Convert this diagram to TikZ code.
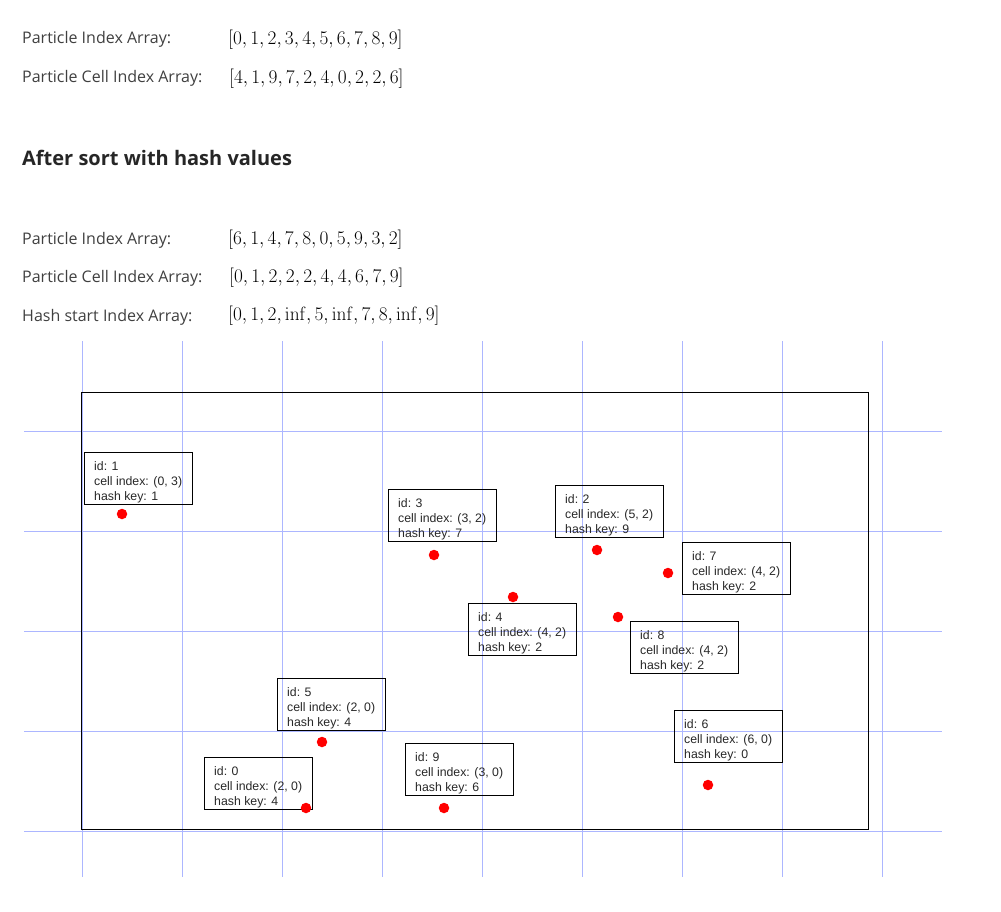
\documentclass[tikz,border=0pt]{standalone}
\usepackage{fix-cm}
\usepackage[no-math]{fontspec}
\setmainfont{Open Sans}
\newfontfamily\boxfont{Liberation Sans}
\definecolor{gridblue}{RGB}{172,182,255}
\definecolor{labelgray}{RGB}{64,64,64}
\definecolor{headgray}{RGB}{38,38,38}
\definecolor{boxtext}{RGB}{40,40,40}
\begin{document}
\begin{tikzpicture}[x=1pt,y=-1pt,
  gridline/.style={gridblue, line width=1pt},
  frame/.style={draw=black, line width=1.2pt, anchor=north west, inner sep=0, minimum width=787, minimum height=437},
  lbl/.style={anchor=base west, inner sep=0, text=labelgray, font=\fontsize{16}{19}\selectfont},
  arr/.style={anchor=base west, inner sep=0, font=\fontsize{19.3}{22}\selectfont},
  head/.style={anchor=base west, inner sep=0, text=headgray, font=\fontsize{20}{24}\selectfont\bfseries},
  pbox/.style={draw=black, line width=0.9pt, anchor=north west, minimum width=108, minimum height=52, inner sep=0},
  ptext/.style={anchor=north west, inner sep=0, align=left, text=boxtext, font=\boxfont\fontsize{12.3}{15}\selectfont},
  dot/.style={circle, fill=red, minimum size=10.5, inner sep=0}]
\useasboundingbox[fill=white] (0,0) rectangle (1001,911);

% header texts
\node[lbl] (l1) at (22,43) {Particle Index Array:};
\node[arr] (a1) at (228,44) {$[0,1,2,3,4,5,6,7,8,9]$};
\node[lbl] (l2) at (22,82) {Particle Cell Index Array:};
\node[arr] (a2) at (229,83) {$[4,1,9,7,2,4,0,2,2,6]$};
\node[head] (h) at (22,165) {After sort with hash values};
\node[lbl] (l3) at (22,244) {Particle Index Array:};
\node[arr] (a3) at (228,244.5) {$[6,1,4,7,8,0,5,9,3,2]$};
\node[lbl] (l4) at (22,282) {Particle Cell Index Array:};
\node[arr] (a4) at (229,282.5) {$[0,1,2,2,2,4,4,6,7,9]$};
\node[lbl] (l5) at (22,321) {Hash start Index Array:};
\node[arr] (a5) at (228,320.5) {$[0,1,2,\mathrm{inf},5,\mathrm{inf},7,8,\mathrm{inf},9]$};

% grid
\foreach \gx in {82.5,182.5,...,882.5} \draw[gridline] (\gx,341) -- (\gx,877);
\foreach \gy in {431.5,531.5,...,831.5} \draw[gridline] (24,\gy) -- (942,\gy);

% frame
\node[frame] (area) at (81,392) {};

% particle boxes
\newcommand{\pinfo}[5]{%
  \node[pbox] (b#1) at (#2,#3) {};
  \node[ptext] (t#1) at ([xshift=10pt,yshift=-9pt]b#1.north west) {id: #1\\cell index: #4\\hash key: #5};
}
\pinfo{1}{84}{452}{(0, 3)}{1}
\pinfo{3}{388}{489}{(3, 2)}{7}
\pinfo{2}{555}{485}{(5, 2)}{9}
\pinfo{7}{682}{542}{(4, 2)}{2}
\pinfo{4}{468}{603}{(4, 2)}{2}
\pinfo{8}{630}{621}{(4, 2)}{2}
\pinfo{5}{277}{678}{(2, 0)}{4}
\pinfo{0}{204}{757}{(2, 0)}{4}
\pinfo{9}{405}{743}{(3, 0)}{6}
\pinfo{6}{674}{710}{(6, 0)}{0}

% particles
\node[dot] (p1) at (122,514) {};
\node[dot] (p3) at (434,555) {};
\node[dot] (p4) at (513,597) {};
\node[dot] (p2) at (597,550) {};
\node[dot] (p7) at (668,573) {};
\node[dot] (p8) at (618,617) {};
\node[dot] (p5) at (322,742) {};
\node[dot] (p0) at (306,808) {};
\node[dot] (p9) at (444,808) {};
\node[dot] (p6) at (708,785) {};
\end{tikzpicture}
\end{document}
